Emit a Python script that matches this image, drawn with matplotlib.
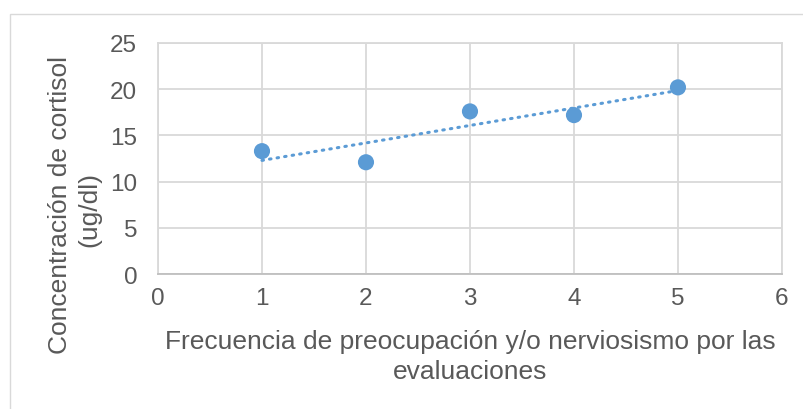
import numpy as np
import matplotlib
matplotlib.use("Agg")
import matplotlib.pyplot as plt
from matplotlib.patches import Rectangle

frecuencia = [1, 2, 3, 4, 5]
cortisol = [13.3, 12.1, 17.6, 17.2, 20.2]
x_ticks = [0, 1, 2, 3, 4, 5, 6]
y_ticks = [0, 5, 10, 15, 20, 25]

blue = "#5B9BD5"
grid_c = "#D9D9D9"
text_c = "#595959"

plt.rcParams["font.family"] = ["Liberation Sans", "DejaVu Sans"]

fig = plt.figure(figsize=(8.04, 4.10), dpi=100)
ax = fig.add_axes([0.1965, 0.329, 0.7761, 0.5637])

# outer chart border
fig.patches.append(Rectangle((10 / 804, -0.1), 1.2, 1 - 15 / 410 + 0.1,
                             transform=fig.transFigure, fill=False,
                             edgecolor="#D9D9D9", lw=1.0))

# linear trendline
m, b = np.polyfit(frecuencia, cortisol, 1)
xs = np.array([frecuencia[0], frecuencia[-1]])
ax.plot(xs, m * xs + b, color=blue, lw=2.2, linestyle=(0, (0.5, 2.0)),
        dash_capstyle="round", zorder=3)

ax.scatter(frecuencia, cortisol, s=135, color=blue, zorder=4, edgecolors="none")

ax.set_xlim(0, 6)
ax.set_ylim(0, 25)
ax.set_xticks(x_ticks)
ax.set_yticks(y_ticks)
ax.grid(True, color=grid_c, lw=1.3)
ax.set_axisbelow(True)
for s in ax.spines.values():
    s.set_color(grid_c)
    s.set_linewidth(1.3)
ax.spines["bottom"].set_color("#BFBFBF")
ax.tick_params(length=0, labelsize=17.5, colors=text_c)
ax.tick_params(axis="x", pad=9)
ax.tick_params(axis="y", pad=15)

fig.text(0.5846, 1 - 342 / 410, "Frecuencia de preocupación y/o nerviosismo por las",
         ha="center", va="center", fontsize=19, color=text_c)
fig.text(0.5846, 1 - 372 / 410, "evaluaciones",
         ha="center", va="center", fontsize=19, color=text_c)
fig.text(60 / 804, 1 - 205 / 410, "Concentración de cortisol",
         ha="center", va="center", rotation=90, fontsize=19, color=text_c)
fig.text(89 / 804, 1 - 210 / 410, "(ug/dl)",
         ha="center", va="center", rotation=90, fontsize=19, color=text_c)

fig.savefig("out.png", dpi=100)
plt.close(fig)
